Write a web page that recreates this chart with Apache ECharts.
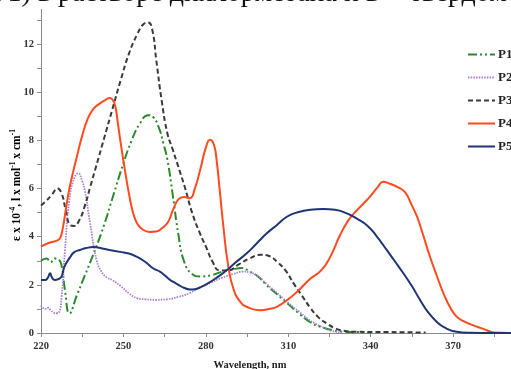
<!DOCTYPE html>
<html>
<head>
<meta charset="utf-8">
<script src="https://cdn.jsdelivr.net/npm/echarts@6/dist/echarts.min.js"></script>
<style>
  html, body { margin: 0; padding: 0; background: #fff; overflow: hidden; width: 511px; height: 369px; }
  #chart { position: absolute; left: 0; top: -20px; width: 560px; height: 389px; }
</style>
</head>
<body>
<div id="chart"></div>
<script>
// Absorption spectra, [wavelength nm, epsilon x 10^-4]
const seriesNames = ['P1', 'P2', 'P3', 'P4', 'P5'];

const p1 = [[220,3.0],[222,3.1],[223.5,2.95],[225,3.1],[226.5,3.05],[227.5,2.8],[228.7,1.8],[230.4,0.82],[233,1.55],[236,2.4],[240,3.55],[243,4.5],[246,5.6],[250,7.05],[253,8.0],[256,8.7],[259,9.05],[261,8.95],[263,8.5],[264.5,7.9],[266,7.2],[268,5.7],[270,4.1],[272,3.0],[275,2.45],[278,2.35],[282,2.4],[286,2.55],[290,2.65],[293,2.7],[296,2.55],[299,2.35],[302,2.0],[305,1.7],[308,1.4],[311,1.1],[314,0.8],[318,0.45],[322,0.25],[326,0.12],[330,0.06],[335,0.04],[340,0.02]];

const p2 = [[220,1.15],[221.5,1.0],[222.5,1.05],[223.5,0.95],[224.5,0.85],[225.5,0.82],[226.5,0.85],[227.5,1.5],[228.7,3.4],[230.3,5.5],[232,6.4],[233.6,6.63],[235,6.3],[236,5.9],[237.8,4.6],[240.3,3.0],[242,2.55],[244,2.3],[246,2.2],[249,1.95],[252,1.65],[255,1.45],[258,1.4],[262,1.38],[266,1.4],[270,1.5],[274,1.65],[278,1.9],[282,2.1],[286,2.3],[290,2.45],[293.5,2.55],[296,2.52],[299,2.35],[302,2.05],[305,1.75],[308,1.45],[311,1.15],[314,0.88],[317,0.6],[320,0.38],[323,0.22],[326,0.08],[330,0.03]];

const p3 = [[220,5.3],[222,5.5],[224,5.75],[226,6.0],[227.5,5.8],[229,5.1],[230.5,4.5],[232,4.45],[234,4.7],[236,5.3],[238,6.1],[240,6.9],[243,8.1],[246,9.3],[249,10.5],[252,11.6],[255,12.4],[257.5,12.85],[259,12.9],[260.5,12.6],[262,11.3],[264,9.6],[266,8.3],[268,7.6],[270,6.9],[272.5,6.0],[275,5.0],[278,4.1],[280,3.6],[282.5,2.95],[285,2.6],[288,2.6],[292,2.85],[296,3.1],[300,3.25],[303,3.2],[306,2.95],[309,2.6],[312,2.05],[315,1.55],[318,1.05],[321,0.65],[324,0.4],[327,0.2],[330,0.1],[335,0.05],[345,0.04],[360,0.02]];

const p4 = [[220,3.6],[223,3.75],[226,3.85],[227,3.95],[228,4.4],[229,5.1],[230,5.8],[231.5,6.6],[233,7.3],[235,8.2],[237,8.9],[239,9.3],[241,9.5],[243.5,9.68],[245,9.76],[246,9.7],[247,9.45],[248,8.7],[249,7.9],[250.5,6.8],[252,5.8],[253.5,5.0],[255,4.55],[257,4.3],[259.5,4.2],[262,4.22],[264,4.35],[266.2,4.6],[268,5.1],[270,5.55],[272,5.65],[274.2,5.6],[276,6.0],[278,6.8],[280,7.7],[281.5,8.03],[283,7.8],[284,7.1],[285,6.0],[286.5,4.3],[288,2.9],[290,1.85],[292.5,1.3],[295,1.08],[299.7,0.95],[303,1.0],[306,1.1],[310,1.4],[314,1.8],[318,2.25],[322,2.6],[325,3.1],[329,4.1],[332,4.7],[335,5.1],[338,5.45],[340,5.7],[342.5,6.05],[344.6,6.28],[347,6.2],[350,6.05],[352.5,5.85],[355,5.3],[357,4.8],[359,4.1],[361.6,3.17],[364,2.4],[366.5,1.65],[369,1.05],[371.3,0.68],[374,0.48],[376.2,0.37],[379,0.25],[381,0.17],[383,0.08],[385,0.02],[390,0],[400,0]];

const p5 = [[220,2.2],[221.5,2.2],[222.5,2.3],[223.3,2.48],[224,2.3],[225,2.2],[226.5,2.25],[227.5,2.35],[228.5,2.75],[230.6,3.15],[232,3.35],[234.2,3.45],[236.5,3.53],[239,3.57],[242.7,3.5],[245,3.45],[248.8,3.37],[252,3.3],[254.8,3.17],[258,2.95],[260.9,2.68],[263.3,2.55],[265,2.4],[267,2.2],[268.2,2.12],[270,2.0],[272,1.88],[274.2,1.81],[276,1.82],[278,1.9],[280.3,2.03],[284,2.3],[287.6,2.61],[291,2.95],[294.9,3.31],[298.5,3.72],[302.2,4.14],[306,4.5],[309.5,4.83],[313,5.0],[318,5.12],[322.8,5.15],[327,5.12],[331.3,4.97],[335,4.75],[338.6,4.48],[342,4.05],[345.9,3.44],[349,2.95],[351.9,2.48],[355,1.95],[358,1.37],[361,0.85],[364,0.47],[367,0.22],[371.3,0.05],[376,0.01],[385,0],[400,0]];

const xTickValues = [220,235,250,265,280,295,310,325,340,355,370,385,400];
const xLabelValues = [220,250,280,310,340,370,400];

const serif = 'Liberation Serif';
const styles = [
  { color: '#2a8a2a', width: 2,   type: [9, 3, 2, 3, 2, 3] },
  { color: '#a57fd6', width: 1.8, type: [1.5, 1.2] },
  { color: '#3a3a3a', width: 2,   type: [5, 3] },
  { color: '#ff4a1f', width: 2,   type: 'solid' },
  { color: '#1f3574', width: 2,   type: 'solid' }
];
const datasets = [p1, p2, p3, p4, p5];

const chart = echarts.init(document.getElementById('chart'), null, { renderer: 'canvas' });
chart.setOption({
  animation: false,
  backgroundColor: '#fff',
  grid: { left: 41, top: 16, width: 494.5, height: 337, containLabel: false },
  xAxis: {
    type: 'value', min: 220, max: 400,
    axisLine: { lineStyle: { color: '#8a8a8a', width: 1 } },
    axisTick: { show: true, length: 4, customValues: xTickValues, lineStyle: { color: '#8a8a8a' } },
    axisLabel: { customValues: xLabelValues, margin: 8, fontFamily: serif, fontWeight: 'bold', fontSize: 10.5, color: '#333' },
    splitLine: { show: false }
  },
  yAxis: {
    type: 'value', min: 0, max: 14, interval: 1,
    axisLine: { show: true, lineStyle: { color: '#8a8a8a', width: 1 } },
    axisTick: { show: true, length: 4, lineStyle: { color: '#8a8a8a' } },
    axisLabel: { margin: 7, fontFamily: serif, fontWeight: 'bold', fontSize: 10.5, color: '#333',
      formatter: v => (v % 2 === 0 ? String(v) : '') },
    splitLine: { show: false }
  },
  legend: {
    orient: 'vertical', left: 467, top: 68, padding: 0,
    itemWidth: 27, itemHeight: 13, itemGap: 10,
    itemStyle: { opacity: 0 },
    textStyle: { fontFamily: serif, fontWeight: 'bold', fontSize: 13, color: '#222', padding: [0, 0, 0, -2] },
    data: seriesNames
  },
  series: seriesNames.map((name, i) => ({
    name: name,
    type: 'line',
    data: datasets[i],
    showSymbol: false,
    symbol: 'none',
    smooth: 0.5,
    lineStyle: { color: styles[i].color, width: styles[i].width, type: styles[i].type },
    itemStyle: { color: styles[i].color },
    z: 2 + i
  })),
  graphic: [
    { type: 'rect', left: 0, top: 0, shape: { width: 560, height: 29 }, style: { fill: '#fff' }, z: 50 },
    { type: 'text', x: -8, y: 0, z: 51,
      style: { text: 'Р1) в растворе дихлорметана и в', font: '28px "Liberation Serif"', fill: '#111' } },
    { type: 'text', x: 410, y: 0, z: 51,
      style: { text: 'твёрдом', font: '28px "Liberation Serif"', fill: '#111' } },
    { type: 'text', x: 250, y: 385, z: 10,
      style: { text: 'Wavelength, nm', font: 'bold 10.5px "Liberation Serif"', fill: '#222', textAlign: 'center', textVerticalAlign: 'middle' } },
    { type: 'text', x: 16, y: 205, rotation: Math.PI / 2, z: 10,
      style: {
        text: '{a|ε x 10}{s|-4}{a|, l x mol}{s|-1}{a| x cm}{s|-1}',
        textAlign: 'center', textVerticalAlign: 'middle',
        rich: {
          a: { fontFamily: serif, fontWeight: 'bold', fontSize: 11.5, color: '#222', lineHeight: 14, verticalAlign: 'bottom' },
          s: { fontFamily: serif, fontWeight: 'bold', fontSize: 7.5, color: '#222', lineHeight: 14, verticalAlign: 'top', padding: [0, 0, 6, 0] }
        }
      } }
  ]
});
</script>
</body>
</html>
